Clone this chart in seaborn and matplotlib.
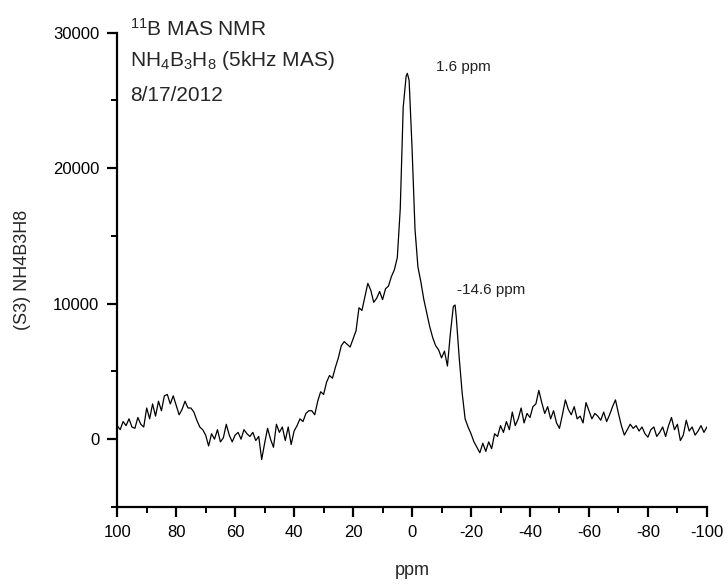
import matplotlib
matplotlib.use("Agg")
import numpy as np
import pandas as pd
import seaborn as sns
import matplotlib.pyplot as plt
from matplotlib.ticker import MultipleLocator

# ------ spectrum (ppm, intensity) ------ #
ppm = [
    100, 99, 98, 97, 96, 95, 94, 93, 92, 91, 90, 89, 88, 87, 86, 85, 84, 83, 82, 81,
    80, 79, 78, 77, 76, 75, 74, 73, 72, 71, 70, 69, 68, 67, 66, 65, 64, 63, 62, 61,
    60, 59, 58, 57, 56, 55, 54, 53, 52, 51, 50, 49, 48, 47, 46, 45, 44, 43, 42, 41,
    40, 39, 38, 37, 36, 35, 34, 33, 32, 31, 30, 29, 28, 27, 26, 25, 24, 23, 22, 21,
    20, 19, 18, 17, 16, 15, 14, 13, 12, 11, 10, 9, 8, 7, 6, 5, 4, 3, 2, 1.6,
    1, 0, -1, -2, -3, -4, -5, -6, -7, -8, -9, -10, -11, -12, -13, -14, -14.6, -15, -16, -17,
    -18, -19, -20, -21, -22, -23, -24, -25, -26, -27, -28, -29, -30, -31, -32, -33, -34, -35, -36, -37,
    -38, -39, -40, -41, -42, -43, -44, -45, -46, -47, -48, -49, -50, -51, -52, -53, -54, -55, -56, -57,
    -58, -59, -60, -61, -62, -63, -64, -65, -66, -67, -68, -69, -70, -71, -72, -73, -74, -75, -76, -77,
    -78, -79, -80, -81, -82, -83, -84, -85, -86, -87, -88, -89, -90, -91, -92, -93, -94, -95, -96, -97,
    -98, -99, -100,
]
intensity = [
    1000, 700, 1300, 1000, 1500, 900, 800, 1600, 1100, 900, 2300, 1500, 2600, 1700, 2800, 2100, 3200, 3300, 2600, 3200,
    2500, 1800, 2200, 2800, 2300, 2300, 2000, 1400, 900, 700, 300, -500, 400, 0, 700, -200, 100, 1100, 300, -200,
    300, 500, 0, 700, 400, 200, 500, -100, 200, -1500, -300, 800, 0, -600, 1100, 500, 900, -100, 900, -400,
    600, 1000, 1500, 1300, 1900, 2100, 2100, 1800, 2800, 3500, 3300, 4200, 4700, 4500, 5300, 6000, 6900, 7200, 7000, 6800,
    7400, 8000, 9700, 9500, 10500, 11500, 11000, 10100, 10400, 10900, 10300, 11100, 11300, 12000, 12500, 13400, 17000, 24500, 26800, 27000,
    26500, 21500, 15500, 12700, 11600, 10300, 9300, 8300, 7500, 6900, 6600, 6000, 6500, 5400, 7800, 9800, 9900, 9000, 6000, 3400,
    1500, 900, 400, -200, -600, -1000, -300, -900, -200, -700, 400, 200, 1000, 500, 1300, 700, 2000, 1000, 1500, 2300,
    1200, 1900, 1600, 2400, 2600, 3600, 2700, 1900, 2400, 1500, 2100, 1200, 800, 1800, 2900, 2200, 1800, 2400, 1500, 1700,
    1200, 2700, 2100, 1500, 1900, 1700, 1400, 2000, 1300, 1800, 2400, 2900, 1900, 1000, 300, 700, 1100, 800, 1000, 600,
    900, 400, 150, 700, 900, 200, 500, 900, 200, 1000, 1600, 700, 1100, -100, 300, 1400, 600, 900, 300, 600,
    1000, 500, 900,
]

x_ticks = [100, 80, 60, 40, 20, 0, -20, -40, -60, -80, -100]
y_ticks = [0, 10000, 20000, 30000]
peak_labels = ["1.6 ppm", "-14.6 ppm"]
peak_pos = [(-8.1, 27200), (-15.3, 10700)]

# ------ style ------ #
sns.set_style("ticks")
plt.rcParams['font.family'] = ['Liberation Sans', 'DejaVu Sans']
plt.rcParams['mathtext.fontset'] = 'custom'
plt.rcParams['mathtext.rm'] = 'Liberation Sans'

data = pd.DataFrame({"ppm": ppm, "intensity": intensity})

fig = plt.figure(figsize=(7.28, 5.84), dpi=100, facecolor="w")
ax = fig.add_axes([0.161, 0.132, 0.810, 0.812])

sns.lineplot(x="ppm", y="intensity", data=data, ax=ax, color="black",
             linewidth=0.9, sort=False)

ax.set_xlim(100, -100)
ax.set_ylim(-5000, 30000)
ax.set_xticks(x_ticks)
ax.set_xticklabels([str(t) for t in x_ticks])
ax.set_yticks(y_ticks)
ax.xaxis.set_minor_locator(MultipleLocator(10))
ax.yaxis.set_minor_locator(MultipleLocator(5000))

for side in ["top", "right"]:
    ax.spines[side].set_visible(False)
for side in ["left", "bottom"]:
    ax.spines[side].set_linewidth(1.6)
    ax.spines[side].set_color("black")

ax.tick_params(which="major", direction="out", length=7, width=1.6,
               labelsize=12, pad=6, colors="black")
ax.tick_params(which="minor", direction="out", length=4, width=1.4,
               colors="black")

ax.set_xlabel("ppm", fontsize=13, labelpad=16)
ax.set_ylabel("(S3) NH4B3H8", fontsize=13, labelpad=16)

# ------ header text ------ #
ax.text(0.022, 0.994, r"$\mathregular{^{11}}$B MAS NMR", transform=ax.transAxes,
        fontsize=15, va="baseline", ha="left")
ax.text(0.022, 0.930,
        r"NH$\mathregular{_4}$B$\mathregular{_3}$H$\mathregular{_8}$ (5kHz MAS)",
        transform=ax.transAxes, fontsize=15, va="baseline", ha="left")
ax.text(0.022, 0.857, "8/17/2012", transform=ax.transAxes,
        fontsize=15, va="baseline", ha="left")

for label, (px, py) in zip(peak_labels, peak_pos):
    ax.text(px, py, label, fontsize=11, color="#222222",
            va="baseline", ha="left")

fig.savefig("out.png", dpi=100)
